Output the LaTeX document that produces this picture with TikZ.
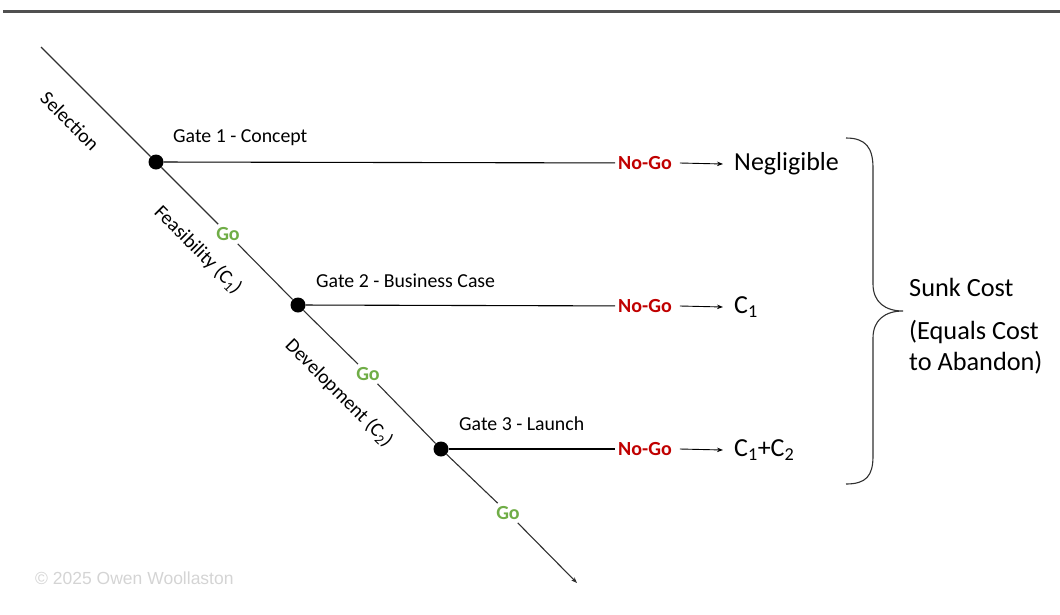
\documentclass[tikz,border=0pt]{standalone}
\usepackage{fontspec}
\setmainfont{Carlito}
\newfontfamily\credfont{Liberation Sans}
\usetikzlibrary{arrows.meta}
\definecolor{nogored}{HTML}{C00000}
\definecolor{gogreen}{HTML}{70AD47}
\definecolor{rulegray}{HTML}{505050}
\definecolor{linegray}{HTML}{303030}
\definecolor{credgray}{HTML}{D4D4D4}
\begin{document}
\begin{tikzpicture}[x=1pt,y=-1pt,
  gate/.style={circle,fill=black,inner sep=0pt,minimum size=15pt},
  gatelabel/.style={anchor=west,font=\fontsize{19.8}{22}\selectfont,inner sep=0pt},
  stagelabel/.style={rotate=-45,font=\fontsize{19.8}{22}\selectfont,inner sep=0pt},
  golabel/.style={text=gogreen,font=\bfseries\fontsize{20}{22}\selectfont,inner sep=3pt},
  nogolabel/.style={text=nogored,font=\bfseries\fontsize{20}{22}\selectfont,inner sep=3pt},
  outcome/.style={anchor=west,font=\fontsize{26}{30}\selectfont,inner sep=0pt},
  sunk/.style={anchor=west,font=\fontsize{26.3}{31}\selectfont,inner sep=0pt,align=left},
  flow/.style={draw=linegray,line width=1.1pt},
  branch/.style={draw=black,line width=1.1pt},
  tip/.style={-{Stealth[length=6pt,width=4.5pt]}}
]
\useasboundingbox (0,0) rectangle (1060,614);

% header rule
\draw[rulegray,line width=3pt] (3,11) -- (1060,11);

% stage-gate points on the diagonal
\coordinate (start) at (41,47);
\coordinate (finish) at (577,583);
\node[gate] (g1) at (156,162) {};
\node[gate] (g2) at (298,305) {};
\node[gate] (g3) at (441,449) {};
\node[golabel] (go1) at (228,234) {Go};
\node[golabel] (go2) at (368,374) {Go};
\node[golabel] (go3) at (508,513) {Go};

% main process line
\draw[flow] (start) -- (g1);
\draw[flow] (g1) -- (go1);
\draw[flow] (go1) -- (g2);
\draw[flow] (g2) -- (go2);
\draw[flow] (go2) -- (g3);
\draw[flow] (g3) -- (go3);
\draw[flow,tip] (go3) -- (finish);

% stage names
\node[stagelabel] (s1) at (70,121) {Selection};
\node[stagelabel] (s2) at (198,250) {Feasibility (C\textsubscript{1})};
\node[stagelabel] (s3) at (339,393) {Development (C\textsubscript{2})};

% gate names
\node[gatelabel] (t1) at (173,138) {Gate 1 - Concept};
\node[gatelabel] (t2) at (316,281) {Gate 2 - Business Case};
\node[gatelabel] (t3) at (459,424) {Gate 3 - Launch};

% no-go exits
\node[nogolabel] (n1) at (645,163) {No-Go};
\node[nogolabel] (n2) at (645,306) {No-Go};
\node[nogolabel] (n3) at (645,449) {No-Go};
\node[outcome] (o1) at (734,164) {Negligible};
\node[outcome] (o2) at (734,307) {C\textsubscript{1}};
\node[outcome] (o3) at (734,450) {C\textsubscript{1}+C\textsubscript{2}};

\draw[branch] (g1) -- (n1);
\draw[branch] (g2) -- (n2);
\draw[branch] (g3) -- (n3);
\draw[branch,tip,line width=0.9pt] (n1.east) ++(5,0) coordinate (a1) (a1) -- (o1.west -| 723,0);
\draw[branch,tip,line width=0.9pt] (n2.east) ++(5,0) coordinate (a2) (a2) -- (o2.west -| 723,0);
\draw[branch,tip,line width=0.9pt] (n3.east) ++(5,0) coordinate (a3) (a3) -- (o3.west -| 723,0);

% brace grouping the outcomes
\draw[linegray,line width=1.1pt]
  (846,138) .. controls (866,138) and (873,148) .. (873,168)
  -- (873,284) .. controls (873,302) and (885,311) .. (903,311)
  .. controls (885,311) and (873,320) .. (873,338)
  -- (873,456) .. controls (873,476) and (866,484) .. (846,484);

\node[sunk] (sc) at (909,287) {Sunk Cost};
\node[sunk] (eq) at (909,347) {(Equals Cost\\to Abandon)};

% credit line
\node[anchor=west,text=credgray,font=\credfont\fontsize{17.5}{20}\selectfont,inner sep=0pt] (cr) at (35,578) {© 2025 Owen Woollaston};
\end{tikzpicture}
\end{document}
